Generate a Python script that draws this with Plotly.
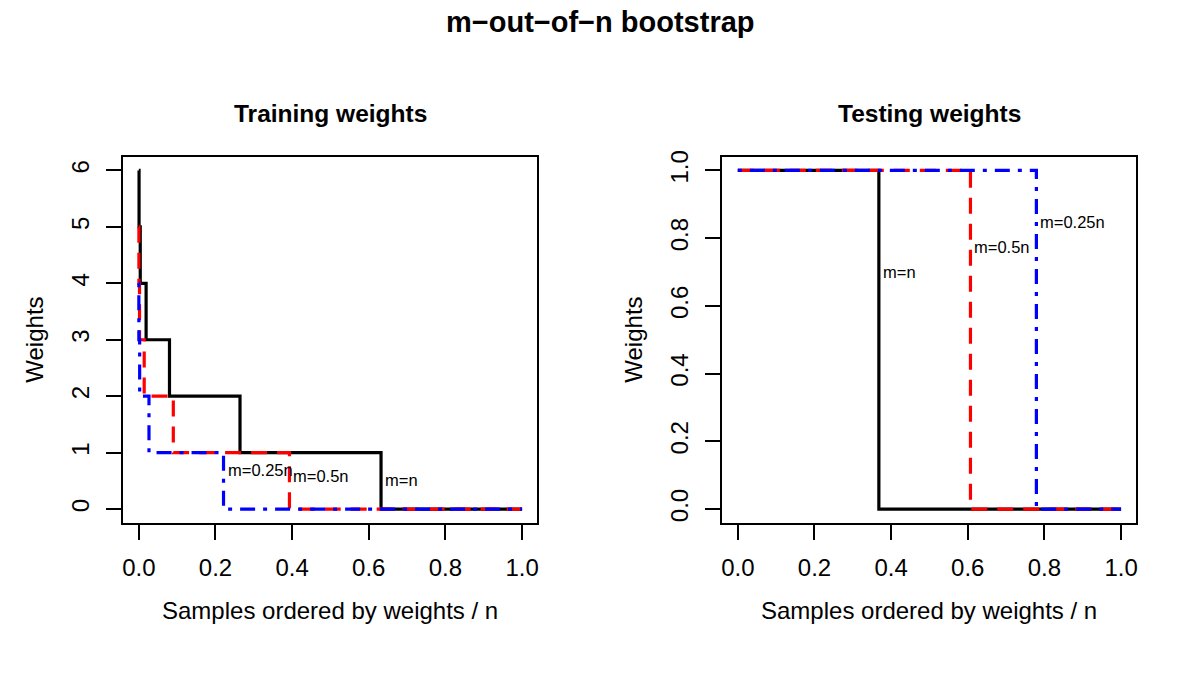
import plotly.graph_objects as go

# ---- data ----
series_names = ["m=n", "m=0.5n", "m=0.25n"]

# Training weights: start of each weight level along samples ordered by weight / n
train_x_mn = [0.0, 0.0006, 0.0037, 0.019, 0.080, 0.264, 0.632, 1.0]
train_w_mn = [6, 5, 4, 3, 2, 1, 0, 0]
train_x_m05 = [0.0, 0.0002, 0.0018, 0.014, 0.090, 0.393, 1.0]
train_w_m05 = [5, 4, 3, 2, 1, 0, 0]
train_x_m025 = [0.0, 0.0001, 0.0022, 0.0265, 0.221, 1.0]
train_w_m025 = [4, 3, 2, 1, 0, 0]

# Testing weights
test_x_mn = [0.0, 0.368, 1.0]
test_w_mn = [1, 0, 0]
test_x_m05 = [0.0, 0.607, 1.0]
test_w_m05 = [1, 0, 0]
test_x_m025 = [0.0, 0.779, 1.0]
test_w_m025 = [1, 0, 0]

# In-plot label anchors (x, y in data units)
train_label_x = [0.632, 0.393, 0.221]
train_label_y = [0.51, 0.58, 0.70]
test_label_x = [0.368, 0.607, 0.779]
test_label_y = [0.70, 0.775, 0.848]

x_ticks = [0.0, 0.2, 0.4, 0.6, 0.8, 1.0]
x_tick_text = ["0.0", "0.2", "0.4", "0.6", "0.8", "1.0"]
train_y_ticks = [0, 1, 2, 3, 4, 5, 6]
test_y_ticks = [0.0, 0.2, 0.4, 0.6, 0.8, 1.0]
test_y_tick_text = ["0.0", "0.2", "0.4", "0.6", "0.8", "1.0"]

main_title = "m\u2212out\u2212of\u2212n bootstrap"
panel_titles = ["Training weights", "Testing weights"]
x_title = "Samples ordered by weights / n"
y_title = "Weights"

# ---- styles ----
W, H = 1200, 675
FONT = "Liberation Sans, Arial, Helvetica, sans-serif"
styles = [
    dict(color="black", width=3.2, dash="solid"),
    dict(color="#FF0000", width=3.2, dash="16px,10px"),
    dict(color="#0000FF", width=3.2, dash="4px,8px,15px,8px"),
]


def px2x(px):
    return px / W


def px2y(py):
    return 1 - py / H


left_dom = [px2x(122.7), px2x(537.3)]
right_dom = [px2x(722.7), px2x(1137.3)]
y_dom = [px2y(521.0), px2y(151.5)]

fig = go.Figure()

train = [(train_x_mn, train_w_mn), (train_x_m05, train_w_m05), (train_x_m025, train_w_m025)]
test = [(test_x_mn, test_w_mn), (test_x_m05, test_w_m05), (test_x_m025, test_w_m025)]

for (xs, ws), st, nm in zip(train, styles, series_names):
    fig.add_trace(go.Scatter(x=xs, y=ws, mode="lines", line=dict(shape="hv", **st),
                             name=nm, xaxis="x", yaxis="y", showlegend=False))
for (xs, ws), st, nm in zip(test, styles, series_names):
    fig.add_trace(go.Scatter(x=xs, y=ws, mode="lines", line=dict(shape="hv", **st),
                             name=nm, xaxis="x2", yaxis="y2", showlegend=False))

axis_common = dict(
    showline=True, linecolor="black", linewidth=2, mirror=True,
    ticks="outside", ticklen=15, tickwidth=2, tickcolor="black",
    showgrid=False, zeroline=False,
    tickfont=dict(family=FONT, size=24, color="black"),
)

fig.update_layout(
    width=W, height=H, autosize=False,
    margin=dict(l=0, r=0, t=0, b=0),
    paper_bgcolor="white", plot_bgcolor="white",
    showlegend=False,
    xaxis=dict(domain=left_dom, range=[-0.04, 1.04], tickvals=x_ticks, ticktext=x_tick_text,
               anchor="y", ticklabelstandoff=8, **axis_common),
    yaxis=dict(domain=y_dom, range=[-0.24, 6.24], tickvals=train_y_ticks, tickangle=-90,
               anchor="x", ticklabelstandoff=8, **axis_common),
    xaxis2=dict(domain=right_dom, range=[-0.04, 1.04], tickvals=x_ticks, ticktext=x_tick_text,
                anchor="y2", ticklabelstandoff=8, **axis_common),
    yaxis2=dict(domain=y_dom, range=[-0.04, 1.04], tickvals=test_y_ticks, ticktext=test_y_tick_text,
                tickangle=-90, anchor="x2", ticklabelstandoff=8, **axis_common),
)

ann = []
ann.append(dict(text="<b>" + main_title + "</b>", x=0.5, y=px2y(15), xref="paper", yref="paper",
                xanchor="center", yanchor="middle", showarrow=False,
                font=dict(family=FONT, size=29, color="black")))
for dom, t in zip([left_dom, right_dom], panel_titles):
    cx = (dom[0] + dom[1]) / 2
    ann.append(dict(text="<b>" + t + "</b>", x=cx, y=px2y(108), xref="paper", yref="paper",
                    xanchor="center", yanchor="middle", showarrow=False,
                    font=dict(family=FONT, size=24.5, color="black")))
    ann.append(dict(text=x_title, x=cx, y=px2y(610), xref="paper", yref="paper",
                    xanchor="center", yanchor="middle", showarrow=False,
                    font=dict(family=FONT, size=24, color="black")))
for xpx in [34, 634]:
    ann.append(dict(text=y_title, x=px2x(xpx), y=(y_dom[0] + y_dom[1]) / 2, xref="paper", yref="paper",
                    xanchor="center", yanchor="middle", textangle=-90, showarrow=False,
                    font=dict(family=FONT, size=24, color="black")))

for xs, ys, xr, yr in [(train_label_x, train_label_y, "x", "y"), (test_label_x, test_label_y, "x2", "y2")]:
    for lx, ly, nm in zip(xs, ys, series_names):
        ann.append(dict(text=nm, x=lx, y=ly, xref=xr, yref=yr, xanchor="left", yanchor="middle",
                        xshift=2, showarrow=False, font=dict(family=FONT, size=16.5, color="black")))

fig.update_layout(annotations=ann)
fig.write_html("out.html")
